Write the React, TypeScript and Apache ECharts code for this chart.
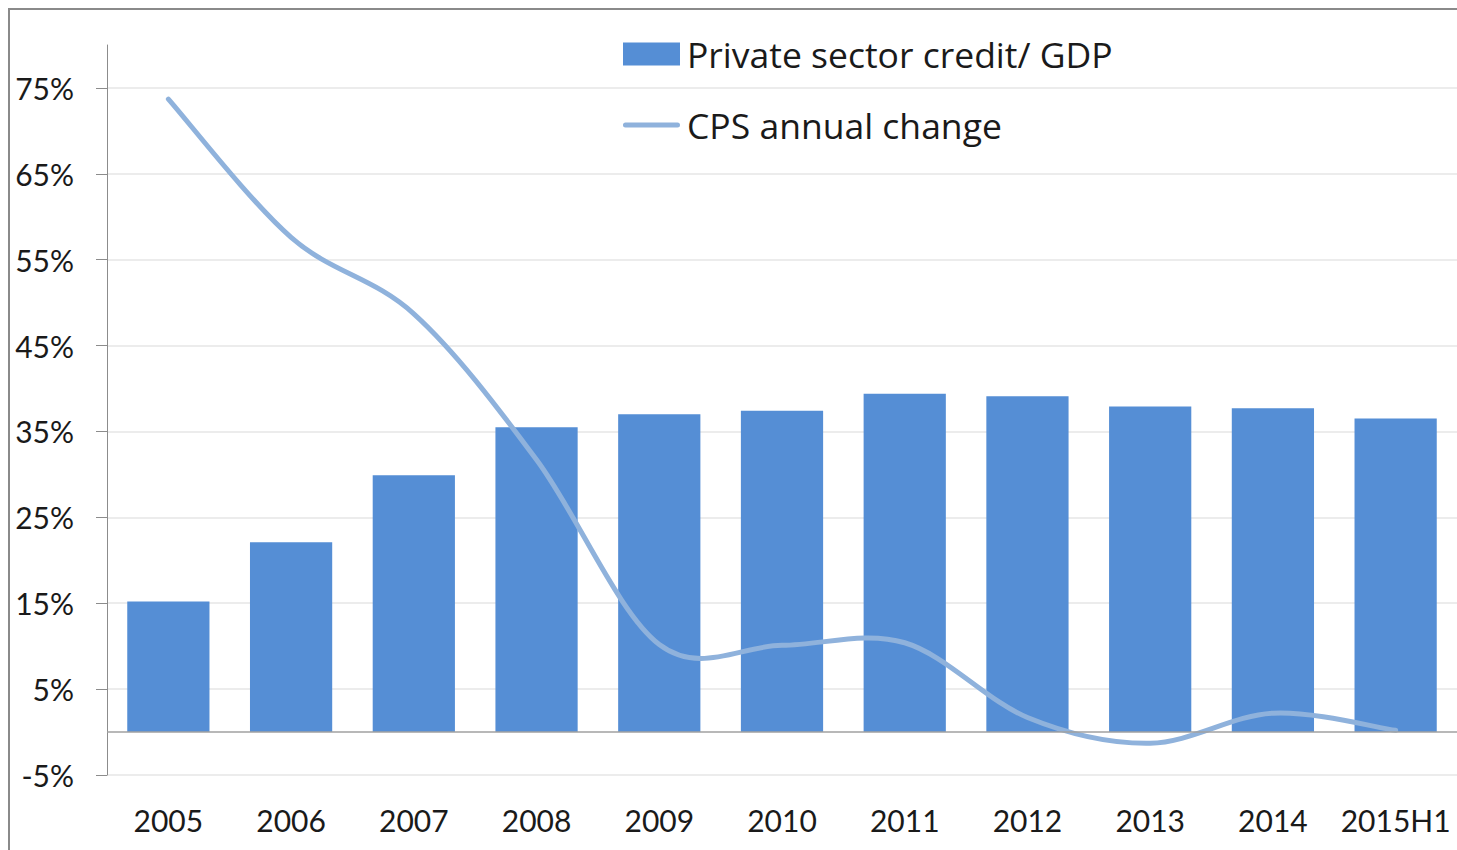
import React, { useEffect, useRef } from 'react';
import * as echarts from 'echarts';

const categories = ['2005', '2006', '2007', '2008', '2009', '2010', '2011', '2012', '2013', '2014', '2015H1'];
const creditToGdp = [15.2, 22.1, 29.9, 35.5, 37.0, 37.4, 39.4, 39.1, 37.9, 37.7, 36.5];
const cpsAnnualChange = [73.7, 57.6, 48.7, 31.7, 10.2, 10.1, 10.4, 1.7, -1.3, 2.2, 0.2];
const yTicks = [-5, 5, 15, 25, 35, 45, 55, 65, 75];
const seriesNames = ['Private sector credit/ GDP', 'CPS annual change'];

const FONT = 'Lato, "Noto Sans", sans-serif';
const LEGEND_FONT = '"Open Sans", "Noto Sans", sans-serif';
const LINE_COLOR = '#8FB2DC';
// thin rounded line inside a 57x23 box (degenerate points fix the bounding box)
const LINE_ICON =
  'path://M0,0 L0.01,0 Z M2.5,9 H54.5 A2.5,2.5 0 0 1 54.5,14 H2.5 A2.5,2.5 0 0 1 2.5,9 Z M57,23 L56.99,23 Z';

function smoothPath(pts: number[][]): string {
  // Catmull-Rom spline converted to cubic Bezier segments
  let d = `M${pts[0][0]},${pts[0][1]}`;
  for (let i = 0; i < pts.length - 1; i++) {
    const p0 = pts[Math.max(0, i - 1)];
    const p1 = pts[i];
    const p2 = pts[i + 1];
    const p3 = pts[Math.min(pts.length - 1, i + 2)];
    const c1x = p1[0] + (p2[0] - p0[0]) / 6;
    const c1y = p1[1] + (p2[1] - p0[1]) / 6;
    const c2x = p2[0] - (p3[0] - p1[0]) / 6;
    const c2y = p2[1] - (p3[1] - p1[1]) / 6;
    d += ` C${c1x},${c1y} ${c2x},${c2y} ${p2[0]},${p2[1]}`;
  }
  return d;
}

export default function App() {
  const ref = useRef<HTMLDivElement>(null);

  useEffect(() => {
    if (!ref.current) return;
    const chart = echarts.init(ref.current, null, { renderer: 'svg' });
    chart.setOption({
      animation: false,
      backgroundColor: '#ffffff',
      textStyle: { fontFamily: FONT },
      legend: {
        orient: 'vertical',
        left: 623,
        top: 36,
        padding: 0,
        itemWidth: 57,
        itemHeight: 23,
        itemGap: 35,
        symbolKeepAspect: false,
        textStyle: {
          fontSize: 35.5,
          lineHeight: 36,
          color: '#1a1a1a',
          fontFamily: LEGEND_FONT,
          padding: [0, 0, 0, 2],
        },
        data: [
          { name: seriesNames[0], icon: 'rect' },
          { name: seriesNames[1], icon: LINE_ICON, itemStyle: { color: LINE_COLOR } },
        ],
      },
      grid: { left: 107, right: -2, top: 45, bottom: 75 },
      xAxis: {
        type: 'category',
        data: categories,
        axisLine: { show: false, onZero: false },
        axisTick: { show: false },
        axisLabel: { interval: 0, fontSize: 30, color: '#1a1a1a', margin: 30, fontFamily: FONT },
        splitLine: { show: false },
      },
      yAxis: {
        type: 'value',
        min: -5,
        max: 80,
        axisLine: { show: true, lineStyle: { color: '#8c8c8c', width: 1 } },
        axisTick: {
          show: true,
          customValues: yTicks,
          length: 11,
          lineStyle: { color: '#8c8c8c', width: 1 },
        },
        axisLabel: {
          customValues: yTicks,
          fontSize: 30,
          color: '#1a1a1a',
          margin: 33,
          fontFamily: FONT,
          formatter: (v: number) => `${v}%`,
        },
        splitLine: { show: true, lineStyle: { color: '#e6e6e6', width: 1.5 } },
      },
      series: [
        {
          name: seriesNames[0],
          type: 'bar',
          data: creditToGdp,
          barCategoryGap: '33%',
          itemStyle: { color: '#558ED5' },
          z: 2,
          markLine: {
            silent: true,
            symbol: 'none',
            label: { show: false },
            lineStyle: { color: '#a0a0a0', width: 1.5, type: 'solid' },
            data: [{ yAxis: 0 }],
          },
        },
        {
          name: seriesNames[1],
          type: 'custom',
          data: cpsAnnualChange.map((v, i) => [i, v]),
          encode: { x: 0, y: 1 },
          itemStyle: { color: LINE_COLOR },
          z: 3,
          silent: true,
          renderItem: (params: any, api: any) => {
            if (params.dataIndex !== 0) return null;
            const pts = cpsAnnualChange.map((v, i) => api.coord([i, v]));
            return {
              type: 'path',
              shape: { pathData: smoothPath(pts) },
              style: {
                fill: 'none',
                stroke: LINE_COLOR,
                lineWidth: 5,
                lineCap: 'round',
                lineJoin: 'round',
              },
            };
          },
        },
      ],
    });
    return () => chart.dispose();
  }, []);

  return (
    <div style={{ position: 'fixed', left: 0, top: 0, width: 1457, height: 850, background: '#fff' }}>
      <div ref={ref} style={{ position: 'absolute', left: 0, top: 0, width: 1457, height: 850 }} />
      <div
        style={{
          position: 'absolute',
          left: 8,
          top: 8,
          width: 1460,
          height: 860,
          borderLeft: '2px solid #8a8a8a',
          borderTop: '2px solid #8a8a8a',
          pointerEvents: 'none',
        }}
      />
    </div>
  );
}
